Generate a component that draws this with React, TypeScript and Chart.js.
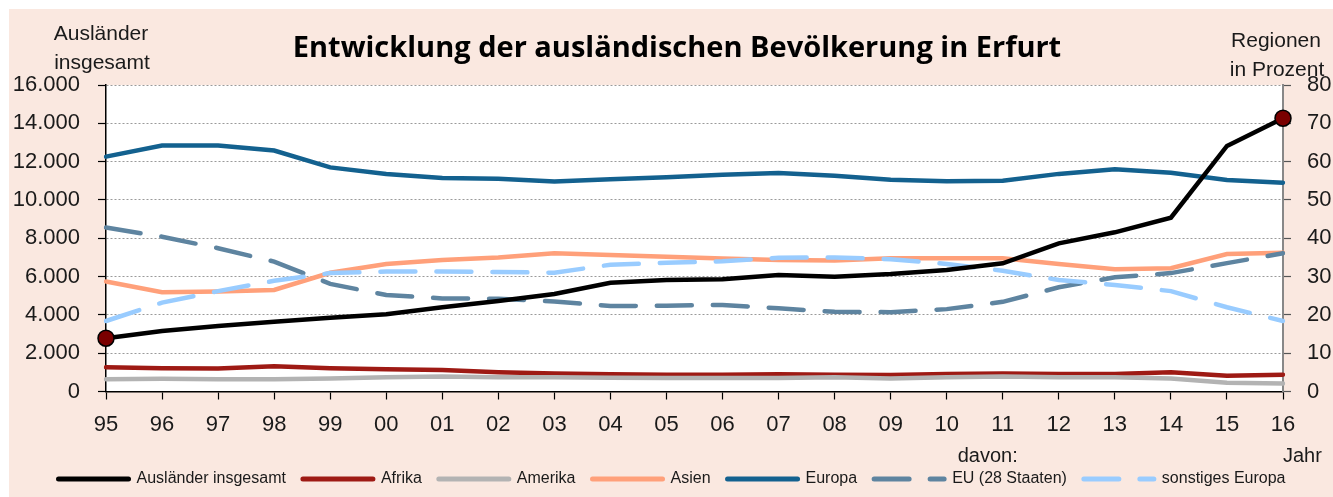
import React, { useEffect, useRef } from 'react';
import { Chart, registerables } from 'chart.js';

Chart.register(...registerables);

// ---------- data ----------
const years = ['95', '96', '97', '98', '99', '00', '01', '02', '03', '04', '05', '06', '07', '08', '09', '10', '11', '12', '13', '14', '15', '16'];
const leftTicksMax = 16000;
const rightTicksMax = 80;

const totalForeigners = [2780, 3160, 3420, 3645, 3855, 4030, 4400, 4720, 5090, 5680, 5820, 5860, 6080, 5995, 6135, 6345, 6690, 7735, 8310, 9075, 12820, 14265];
const africa = [6.3, 6.1, 6.0, 6.6, 6.1, 5.8, 5.6, 5.0, 4.7, 4.5, 4.4, 4.4, 4.5, 4.4, 4.3, 4.6, 4.7, 4.6, 4.6, 5.0, 4.1, 4.4];
const america = [3.2, 3.35, 3.2, 3.2, 3.4, 3.7, 3.9, 3.7, 3.7, 3.6, 3.5, 3.5, 3.5, 3.7, 3.4, 3.7, 3.9, 3.7, 3.7, 3.4, 2.3, 2.1];
const asia = [28.7, 25.9, 26.1, 26.5, 31.0, 33.3, 34.3, 35.0, 36.1, 35.6, 35.2, 34.7, 34.3, 34.2, 34.8, 34.8, 34.8, 33.3, 31.9, 32.2, 35.9, 36.2];
const europe = [61.3, 64.2, 64.2, 62.9, 58.5, 56.8, 55.7, 55.5, 54.8, 55.4, 55.9, 56.6, 57.0, 56.3, 55.3, 54.9, 55.0, 56.8, 58.0, 57.1, 55.2, 54.5];
const eu28 = [42.8, 40.4, 37.4, 33.9, 28.1, 25.2, 24.3, 24.2, 23.5, 22.3, 22.4, 22.6, 21.7, 20.8, 20.7, 21.5, 23.4, 27.2, 29.8, 30.9, 33.5, 36.1];
const otherEurope = [18.4, 23.2, 26.2, 28.9, 30.9, 31.3, 31.3, 31.2, 31.0, 33.1, 33.6, 34.0, 34.9, 35.0, 34.5, 33.3, 31.5, 29.1, 27.8, 26.2, 22.0, 18.4];

const titleText = 'Entwicklung der ausländischen Bevölkerung in Erfurt';
const leftAxisTitle = ['Ausländer', 'insgesamt'];
const rightAxisTitle = ['Regionen', 'in Prozent'];
const davonText = 'davon:';
const jahrText = 'Jahr';

// ---------- styles ----------
const PINK = '#FAE8E0';
const NARROW = "'Liberation Sans', Arial, sans-serif";
const TITLE_FAMILY = "'Open Sans', Lato, sans-serif";
const TEXT = '#1a1a1a';

const textPlugin = {
  id: 'extraTexts',
  beforeDraw(chart: any) {
    const { ctx, chartArea } = chart;
    ctx.save();
    ctx.fillStyle = '#ffffff';
    ctx.fillRect(chartArea.left, chartArea.top, chartArea.right - chartArea.left, chartArea.bottom - chartArea.top);
    ctx.restore();
  },
  afterDraw(chart: any) {
    const { ctx, scales } = chart;
    ctx.save();
    // title
    ctx.fillStyle = '#000';
    ctx.font = `bold 29px ${TITLE_FAMILY}`;
    ctx.textAlign = 'center';
    ctx.textBaseline = 'alphabetic';
    ctx.fillText(titleText, 668, 48);
    // axis titles
    ctx.fillStyle = TEXT;
    ctx.font = `21px ${NARROW}`;
    ctx.fillText(leftAxisTitle[0], 92, 31);
    ctx.fillText(leftAxisTitle[1], 93, 60);
    ctx.fillText(rightAxisTitle[0], 1267, 38);
    ctx.fillText(rightAxisTitle[1], 1268, 67);
    // davon / Jahr
    const x = scales.x;
    const xLast = x.getPixelForValue(years.length - 1);
    const x10 = x.getPixelForValue(years.indexOf('10'));
    ctx.font = `20px ${NARROW}`;
    ctx.textAlign = 'center';
    ctx.fillText(davonText, x10 + 41, 453);
    ctx.textAlign = 'left';
    ctx.fillText(jahrText, xLast, 453);
    ctx.restore();
  },
};

const LW = 4.5;
const DASH = [35, 21];

export default function App() {
  const ref = useRef<HTMLCanvasElement>(null);

  useEffect(() => {
    const last = years.length - 1;
    const chart = new Chart(ref.current as HTMLCanvasElement, {
      type: 'line',
      data: {
        labels: years,
        datasets: [
          {
            label: 'Ausländer insgesamt',
            data: totalForeigners,
            yAxisID: 'y',
            borderColor: '#000000',
            backgroundColor: '#000000',
            borderWidth: LW,
            tension: 0,
            order: 0,
            clip: false,
            pointRadius: (c: any) => (c.dataIndex === 0 || c.dataIndex === last ? 8 : 0),
            pointBackgroundColor: '#7A0000',
            pointBorderColor: '#000000',
            pointBorderWidth: 1.5,
          },
          { label: 'Afrika', data: africa, yAxisID: 'y1', borderColor: '#9E1A14', borderWidth: LW, pointRadius: 0, order: 6, borderCapStyle: 'round' },
          { label: 'Amerika', data: america, yAxisID: 'y1', borderColor: '#B3B3B3', borderWidth: LW, pointRadius: 0, order: 5, borderCapStyle: 'round' },
          { label: 'Asien', data: asia, yAxisID: 'y1', borderColor: '#FFA07A', borderWidth: LW, pointRadius: 0, order: 4, borderCapStyle: 'round' },
          { label: 'Europa', data: europe, yAxisID: 'y1', borderColor: '#13618F', borderWidth: LW, pointRadius: 0, order: 3, borderCapStyle: 'round' },
          { label: 'EU (28 Staaten)', data: eu28, yAxisID: 'y1', borderColor: '#5E84A0', borderWidth: LW, borderDash: DASH, borderCapStyle: 'round', pointRadius: 0, order: 2 },
          { label: 'sonstiges Europa', data: otherEurope, yAxisID: 'y1', borderColor: '#99CCFF', borderWidth: LW, borderDash: DASH, borderCapStyle: 'round', pointRadius: 0, order: 1 },
        ] as any,
      },
      options: {
        responsive: false,
        maintainAspectRatio: false,
        devicePixelRatio: 1,
        animation: false,
        layout: { padding: { top: 76, left: 2, right: 0, bottom: 0 } },
        plugins: {
          tooltip: { enabled: false },
          title: { display: false },
          legend: {
            display: true,
            position: 'bottom',
            align: 'center',
            labels: {
              usePointStyle: true,
              pointStyle: 'line',
              pointStyleWidth: 70,
              padding: 17,
              color: TEXT,
              font: { family: NARROW, size: 16 },
              generateLabels: (ch: any) =>
                ch.data.datasets.map((ds: any, i: number) => ({
                  text: ds.label,
                  strokeStyle: ds.borderColor,
                  fillStyle: ds.borderColor,
                  lineWidth: 5,
                  lineDash: ds.borderDash || [],
                  lineCap: 'round',
                  pointStyle: 'line',
                  hidden: false,
                  datasetIndex: i,
                  fontColor: TEXT,
                })),
            },
          },
        },
        scales: {
          x: {
            type: 'category',
            offset: false,
            afterFit: (s: any) => { s.height = 62.5; },
            grid: { display: true, drawOnChartArea: false, drawTicks: true, tickLength: 8, tickColor: '#000', tickWidth: 1.2 },
            border: { display: true, color: '#000', width: 1.5 },
            ticks: { color: TEXT, font: { family: NARROW, size: 22 }, padding: 12, maxRotation: 0, autoSkip: false },
          },
          y: {
            position: 'left',
            min: 0,
            max: leftTicksMax,
            afterFit: (s: any) => { s.width = 95; },
            grid: { display: true, color: '#9a9a9a', lineWidth: 1, drawTicks: true, tickLength: 8, tickColor: '#000', tickWidth: 1.2, tickBorderDash: [] },
            border: { display: true, color: '#000', width: 1.5, dash: [2, 2] },
            ticks: {
              stepSize: 2000,
              color: TEXT,
              font: { family: NARROW, size: 22 },
              padding: 18,
              callback: (v: any) => Number(v).toLocaleString('de-DE'),
            },
          },
          y1: {
            position: 'right',
            min: 0,
            max: rightTicksMax,
            afterFit: (s: any) => { s.width = 50; },
            grid: { display: true, drawOnChartArea: false, drawTicks: true, tickLength: 8, tickColor: '#555', tickWidth: 1.2 },
            border: { display: true, color: '#888', width: 2 },
            ticks: { stepSize: 10, color: TEXT, font: { family: NARROW, size: 22 }, padding: 16 },
          },
        },
      } as any,
      plugins: [textPlugin],
    });
    return () => chart.destroy();
  }, []);

  return (
    <div style={{ position: 'absolute', left: 9, top: 9, width: 1324, height: 488, background: PINK }}>
      <canvas ref={ref} width={1324} height={488} style={{ display: 'block', width: 1324, height: 488 }} />
    </div>
  );
}
